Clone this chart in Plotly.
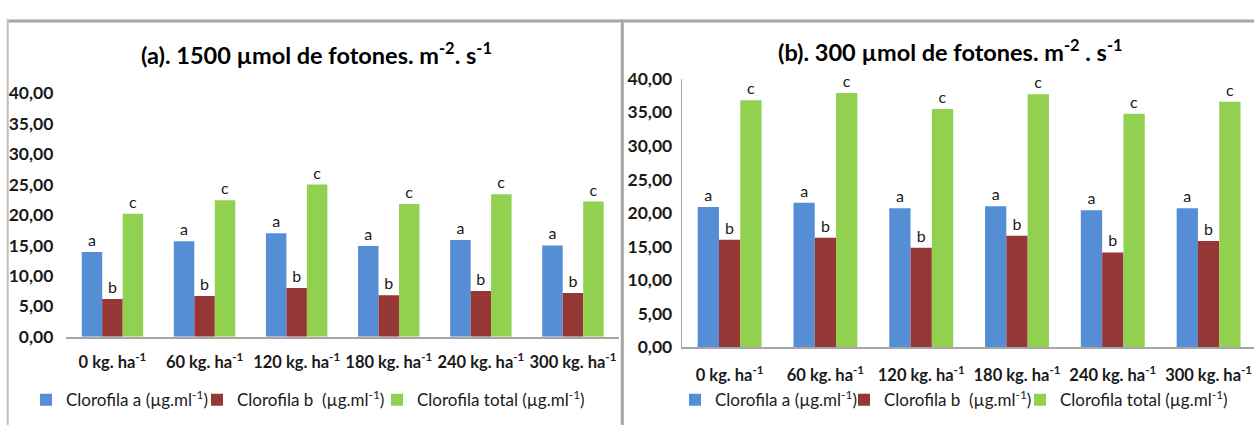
import plotly.graph_objects as go

# ---------------- data ----------------
categories = ["0 kg. ha<sup>-1</sup>", "60 kg. ha<sup>-1</sup>", "120 kg. ha<sup>-1</sup>",
              "180 kg. ha<sup>-1</sup>", "240 kg. ha<sup>-1</sup>", "300 kg. ha<sup>-1</sup>"]

series_names = ["Clorofila a (µg.ml<sup>-1</sup>)",
                "Clorofila b  (µg.ml<sup>-1</sup>)",
                "Clorofila total (µg.ml<sup>-1</sup>)"]

# (a) 1500 µmol de fotones
a_clorofila_a = [13.9, 15.7, 17.0, 14.9, 15.9, 15.0]
a_clorofila_b = [6.2, 6.7, 8.0, 6.8, 7.5, 7.2]
a_clorofila_total = [20.2, 22.4, 25.0, 21.8, 23.4, 22.2]

# (b) 300 µmol de fotones
b_clorofila_a = [20.9, 21.5, 20.7, 21.0, 20.4, 20.7]
b_clorofila_b = [16.0, 16.3, 14.8, 16.6, 14.1, 15.8]
b_clorofila_total = [36.8, 37.9, 35.5, 37.7, 34.8, 36.6]

letters_a = ["a", "a", "a", "a", "a", "a"]
letters_b = ["b", "b", "b", "b", "b", "b"]
letters_c = ["c", "c", "c", "c", "c", "c"]

tick_values = [0, 5, 10, 15, 20, 25, 30, 35, 40]

title_a = "(a). 1500 µmol de fotones. m<sup>-2</sup>. s<sup>-1</sup>"
title_b = "(b). 300 µmol de fotones. m<sup>-2</sup> . s<sup>-1</sup>"

# ---------------- style ----------------
W, H = 1254, 435
FONT = "Lato"
colors = ["#558ED5", "#953735", "#92D050"]
TXT = "#1a1a1a"
GRAY = "#a6a6a6"


def px(x):
    return x / W


def py(y):
    return 1 - y / H


fig = go.Figure()

panels = [
    ([a_clorofila_a, a_clorofila_b, a_clorofila_total], "x", "y",
     ["legend", "legend2", "legend3"]),
    ([b_clorofila_a, b_clorofila_b, b_clorofila_total], "x2", "y2",
     ["legend4", "legend5", "legend6"]),
]
letters = [letters_a, letters_b, letters_c]

for vals, xa, ya, legs in panels:
    for v, name, col, lt, leg in zip(vals, series_names, colors, letters, legs):
        fig.add_trace(go.Bar(
            x=categories, y=v, name=name, xaxis=xa, yaxis=ya, legend=leg,
            marker=dict(color=col, line=dict(width=0)),
            text=lt, textposition="outside", cliponaxis=False,
            textfont=dict(family=FONT, size=16, color=TXT),
            showlegend=True,
        ))

ytick_font = dict(family=FONT, size=17.5, color=TXT, weight="bold")
xtick_font = dict(family=FONT, size=16.5, color=TXT, weight="bold")
legend_font = dict(family=FONT, size=17, color=TXT)

# legend text start positions (px) in the reference
legend_text_x = [58, 229, 409, 707, 876, 1052]
legends = {}
for i, tx in enumerate(legend_text_x):
    key = "legend" if i == 0 else f"legend{i + 1}"
    legends[key] = dict(orientation="h", x=px(tx - 32), y=py(409),
                        xanchor="left", yanchor="middle", font=legend_font,
                        bgcolor="rgba(0,0,0,0)", itemwidth=30, visible=True)

fig.update_layout(
    width=W, height=H, autosize=False,
    showlegend=True,
    margin=dict(l=0, r=0, t=0, b=0),
    paper_bgcolor="white", plot_bgcolor="white",
    separators=",.",
    barmode="group", bargap=0.333, bargroupgap=0,
    xaxis=dict(domain=[px(66.4), px(619)], range=[-0.5, 5.5], type="category",
               anchor="y", showline=True, linecolor=GRAY, linewidth=1.5,
               ticks="", tickfont=xtick_font, ticklabelstandoff=10,
               showgrid=False, zeroline=False),
    yaxis=dict(domain=[py(342.3), py(86.3)], range=[0, 40], anchor="x",
               tickvals=tick_values, tickformat=".2f", showgrid=False,
               showline=False, zeroline=False, ticks="",
               tickfont=ytick_font, ticklabelstandoff=12),
    xaxis2=dict(domain=[px(681.7), 1], range=[-0.5, 5.474], type="category",
                anchor="y2", showline=True, linecolor=GRAY, linewidth=1.5,
                ticks="", tickfont=xtick_font, ticklabelstandoff=12,
                showgrid=False, zeroline=False),
    yaxis2=dict(domain=[py(353), py(71.3)], range=[0, 40], anchor="x2",
                tickvals=tick_values, tickformat=".2f", showgrid=False,
                showline=True, linecolor=GRAY, linewidth=1, zeroline=False,
                ticks="", tickfont=ytick_font, ticklabelstandoff=5),
    annotations=[
        dict(text=title_a, x=px(316), y=py(45), xref="paper", yref="paper",
             showarrow=False, xanchor="center", yanchor="middle",
             font=dict(family=FONT, size=23.5, color="#000", weight="bold")),
        dict(text=title_b, x=px(950), y=py(42), xref="paper", yref="paper",
             showarrow=False, xanchor="center", yanchor="middle",
             font=dict(family=FONT, size=23.5, color="#000", weight="bold")),
    ],
    shapes=[
        dict(type="line", xref="paper", yref="paper", x0=px(7), x1=1,
             y0=py(10.5), y1=py(10.5), line=dict(color=GRAY, width=3)),
        dict(type="line", xref="paper", yref="paper", x0=px(7.7), x1=px(7.7),
             y0=py(9), y1=0, line=dict(color="#bfbfbf", width=2)),
        dict(type="line", xref="paper", yref="paper", x0=px(622.3), x1=px(622.3),
             y0=py(9), y1=0, line=dict(color=GRAY, width=3)),
    ],
    **legends,
)

fig.write_html(
    "out.html",
    config={"displayModeBar": False},
    post_script="document.body.style.margin='0';document.body.style.overflow='hidden';",
)
